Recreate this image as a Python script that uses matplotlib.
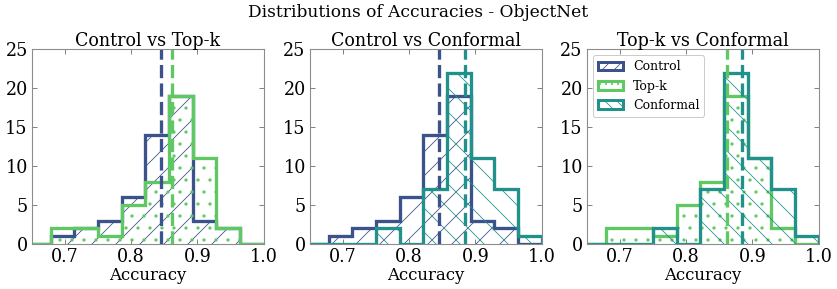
import matplotlib
matplotlib.use("Agg")
import matplotlib.pyplot as plt
from matplotlib.patches import Patch
import numpy as np

# bin edges of the histograms and the counts
edges = np.linspace(0.5, 1.0, 15)
control_counts = [0, 0, 0, 0, 0, 1, 2, 3, 6, 14, 19, 3, 2, 0]
topk_counts = [0, 0, 0, 0, 0, 2, 2, 1, 5, 8, 19, 11, 2, 0]
conformal_counts = [0, 0, 0, 0, 0, 0, 0, 2, 0, 7, 22, 11, 7, 1]

# means (dashed lines)
control_mean = 0.845
topk_mean = 0.861
conformal_mean = 0.884

names = ["Control", "Top-k", "Conformal"]
colors = ["#3b528b", "#5ec962", "#21918c"]
hatches = ["/", ".", "\\"]
counts = [control_counts, topk_counts, conformal_counts]
means = [control_mean, topk_mean, conformal_mean]

pairs = [(0, 1), (0, 2), (1, 2)]
titles = ["Control vs Top-k", "Control vs Conformal", "Top-k vs Conformal"]

plt.rcParams["font.family"] = "DejaVu Serif"
plt.rcParams["hatch.linewidth"] = 0.8

# 72 dpi so that one point is one pixel (hatch spacing like the original)
fig = plt.figure(figsize=(837 / 72, 289 / 72), dpi=72)
lefts = [0.038, 0.370, 0.701]
centers = (edges[:-1] + edges[1:]) / 2

for k, (a, b) in enumerate(pairs):
    ax = fig.add_axes([lefts[k], 0.156, 0.277, 0.674])
    for i in (a, b):
        ax.hist(centers, bins=edges, weights=counts[i], histtype="step",
                color=colors[i], hatch=hatches[i], linewidth=3.3,
                label=names[i])
    for i in (a, b):
        ax.axvline(means[i], color=colors[i], linestyle=(0, (4, 1.6)),
                   linewidth=3.3)
    ax.set_xlim(0.65, 1.0)
    ax.set_ylim(0, 25)
    ax.set_xticks([0.7, 0.8, 0.9, 1.0])
    ax.set_yticks([0, 5, 10, 15, 20, 25])
    ax.tick_params(direction="in", top=True, right=True, labelsize=17.5,
                   color="0.4", pad=4, length=5)
    for s in ax.spines.values():
        s.set_color("0.55")
        s.set_linewidth(1.1)
    ax.set_title(titles[k], fontsize=17.5, pad=3)
    ax.set_xlabel("Accuracy", fontsize=16.5, labelpad=1)

    if k == 2:
        handles = [Patch(facecolor="white", edgecolor=colors[i],
                         hatch=hatches[i] * 2, linewidth=3, label=names[i])
                   for i in range(3)]
        ax.legend(handles=handles, loc="upper left", fontsize=12.5,
                  framealpha=1, edgecolor="0.8")

fig.suptitle("Distributions of Accuracies - ObjectNet", fontsize=17, y=0.985)
fig.savefig("out.png", dpi=72)
